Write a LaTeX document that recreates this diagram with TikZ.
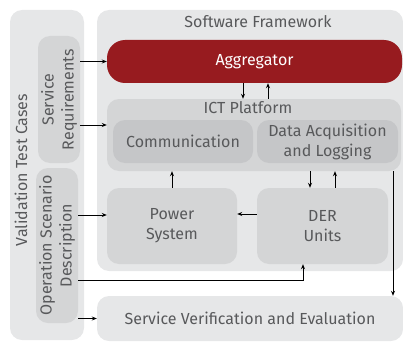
\documentclass[tikz,border=0pt]{standalone}
\usepackage{fontspec}
\setmainfont{Fira Sans}
\usepackage{tikz}
\usetikzlibrary{positioning}
\usetikzlibrary{arrows.meta}
\definecolor{bglight}{HTML}{E6E7E8}
\definecolor{bgmid}{HTML}{D4D5D6}
\definecolor{bgdark}{HTML}{C5C6C8}
\definecolor{aggred}{HTML}{971B1F}
\definecolor{txtgray}{HTML}{58595B}
\tikzset{
  box/.style={rectangle, rounded corners=12pt, inner sep=0pt, text=txtgray, align=center,
    font=\fontsize{16}{20}\selectfont},
  lightbox/.style={box, fill=bglight},
  midbox/.style={box, fill=bgmid},
  darkbox/.style={box, fill=bgdark},
  lbl/.style={text=txtgray, font=\fontsize{16}{20}\selectfont, align=center, inner sep=0pt},
  conn/.style={-{Stealth[length=5pt,width=4pt]}, line width=0.9pt}
}

\begin{document}
\begin{tikzpicture}[x=1pt,y=-1pt]
\useasboundingbox (0,0) rectangle (403,342);
% validation side
\node[lightbox, minimum width=74pt, minimum height=330pt] (vtc) at (47,175) {};
\node[lbl, rotate=90] (vtclbl) at (21,170) {Validation Test Cases};
\node[midbox, minimum width=42pt, minimum height=127pt] (sreq) at (59,99.5) {};
\node[lbl, rotate=90] at (sreq) {Service\\Requirements};
\node[midbox, minimum width=42pt, minimum height=155pt] (osd) at (57,245.5) {};
\node[lbl, rotate=90] at (osd) {Operation Scenario\\Description};
% software framework
\node[lightbox, minimum width=306pt, minimum height=261pt] (sfw) at (250,140.5) {};
\node[lbl] (sfwlbl) at (258,22) {Software Framework};
\node[box, fill=aggred, text=white, rounded corners=18pt, minimum width=295pt, minimum height=43pt] (agg) at (254.5,61.5) {Aggregator};
\node[midbox, minimum width=294pt, minimum height=72pt] (ict) at (254,135) {};
\node[lbl] (ictlbl) at (248,108) {ICT Platform};
\node[darkbox, minimum width=140pt, minimum height=43pt] (comm) at (183,141.5) {Communication};
\node[darkbox, minimum width=141pt, minimum height=43pt] (daq) at (327.5,141.5) {Data Acquisition\\and Logging};
\node[midbox, minimum width=130pt, minimum height=76pt] (pow) at (172,226) {Power\\System};
\node[midbox, minimum width=131pt, minimum height=76pt] (der) at (322.5,226) {DER\\Units};
\node[lightbox, minimum width=306pt, minimum height=45pt] (svf) at (250,318.5) {Service Verification and Evaluation};
% connectors
\draw[conn] (sreq.east |- agg.west) -- (agg.west);
\draw[conn] (sreq.east |- 0,125) -- (ict.west |- 0,125);
\draw[conn] (osd.east |- 0,215) -- (pow.west |- 0,215);
\draw[conn] (osd.east |- 0,280) -| ([xshift=-19.5pt]der.south);
\draw[conn] (osd.east |- svf.west) -- (svf.west);
\draw[conn] (agg.south -| 243,0) -- (ict.north -| 243,0);
\draw[conn] (ict.north -| 268,0) -- (agg.south -| 268,0);
\draw[conn] (pow.north) -- (pow.north |- ict.south);
\draw[conn] (ict.south -| 310,0) -- (der.north -| 310,0);
\draw[conn] (der.north -| 335,0) -- (ict.south -| 335,0);
\draw[conn] (der.west |- 0,214) -- (pow.east |- 0,214);
\draw[conn] (ict.south -| 393,0) -- (svf.north -| 393,0);
\end{tikzpicture}
\end{document}
